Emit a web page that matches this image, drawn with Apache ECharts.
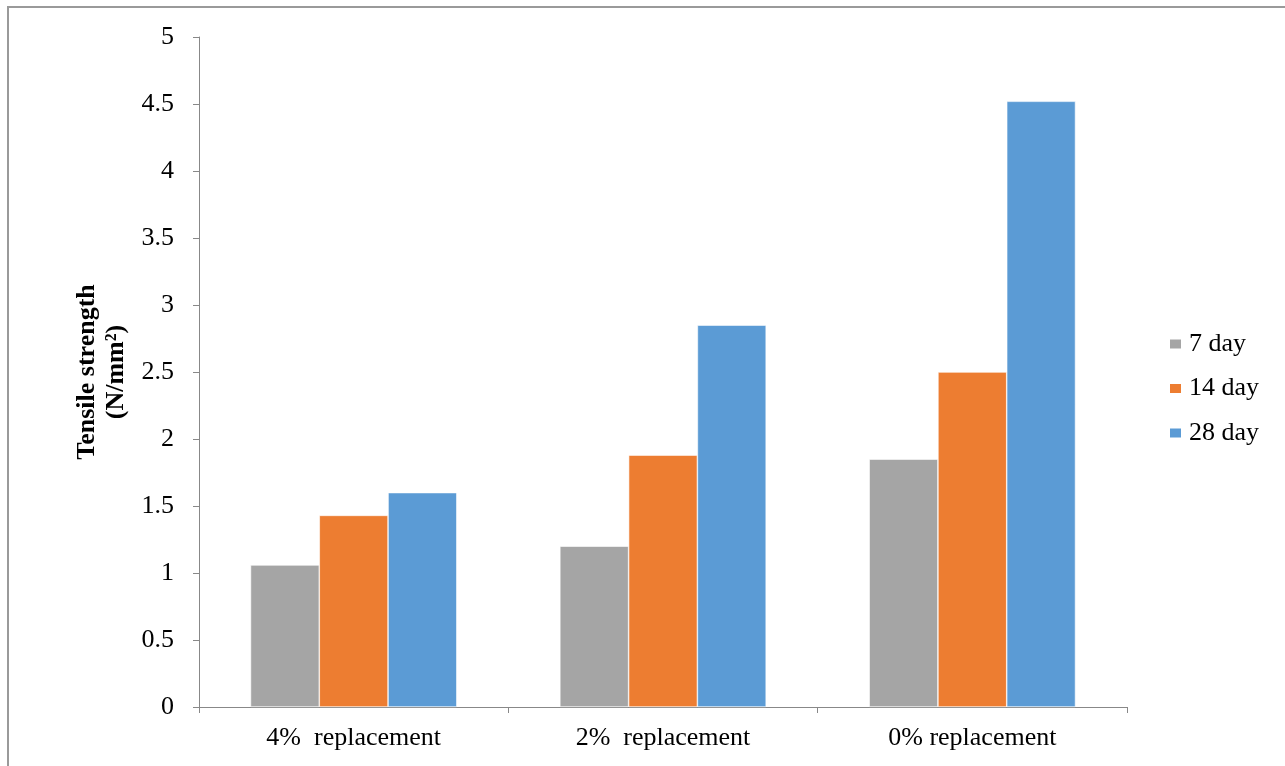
<!DOCTYPE html>
<html>
<head>
<meta charset="utf-8">
<script src="https://cdn.jsdelivr.net/npm/echarts@6/dist/echarts.min.js"></script>
<style>html,body{margin:0;padding:0;background:#fff}#c{width:1285px;height:766px}</style>
</head>
<body>
<div id="c"></div>
<script>
const categories = ['4%  replacement', '2%  replacement', '0% replacement'];
const seriesNames = ['7 day', '14 day', '28 day'];
const day7 = [1.06, 1.20, 1.85];
const day14 = [1.43, 1.88, 2.50];
const day28 = [1.60, 2.85, 4.52];
const colors = ['#A5A5A5', '#ED7D31', '#5B9BD5'];
const yTicks = {min: 0, max: 5, interval: 0.5};
const yTitle = 'Tensile strength\n(N/mm²)';

const font = '"Liberation Serif", "Times New Roman", serif';
const chart = echarts.init(document.getElementById('c'));
const values = [day7, day14, day28];
chart.setOption({
  animation: false,
  color: colors,
  grid: {left: 199, right: 158, top: 37, bottom: 59},
  legend: {
    orient: 'vertical', left: 1168, top: 331, padding: 0,
    itemWidth: 13, itemHeight: 11, itemGap: 18.5,
    icon: 'rect',
    textStyle: {fontFamily: font, fontSize: 26, color: '#000', lineHeight: 26, padding: [0,0,0,2]},
    data: seriesNames
  },
  xAxis: {
    type: 'category', data: categories,
    axisLine: {lineStyle: {color: '#888', width: 1}},
    axisTick: {show: true, length: 6, lineStyle: {color: '#888'}},
    axisLabel: {fontFamily: font, fontSize: 26, color: '#000', margin: 18}
  },
  yAxis: {
    type: 'value', min: yTicks.min, max: yTicks.max, interval: yTicks.interval,
    name: yTitle, nameLocation: 'middle', nameRotate: 90, nameGap: 65.5,
    nameTextStyle: {fontFamily: font, fontSize: 26, fontWeight: 'bold', color: '#000', lineHeight: 29, padding: [0,0,0,0]},
    axisLine: {show: true, lineStyle: {color: '#888', width: 1}},
    axisTick: {show: true, length: 6, lineStyle: {color: '#888'}},
    splitLine: {show: false},
    axisLabel: {fontFamily: font, fontSize: 26, color: '#000', margin: 25}
  },
  graphic: [{
    type: 'rect', shape: {x: 8, y: 7, width: 1300, height: 800},
    style: {fill: 'none', stroke: '#9a9a9a', lineWidth: 2}, silent: true, z: -1
  }],
  series: seriesNames.map((n, i) => ({
    name: n, type: 'bar', data: values[i],
    barGap: '0%', barCategoryGap: '33.3%',
    itemStyle: {borderColor: '#fff', borderWidth: 0.6}
  }))
});
</script>
</body>
</html>
